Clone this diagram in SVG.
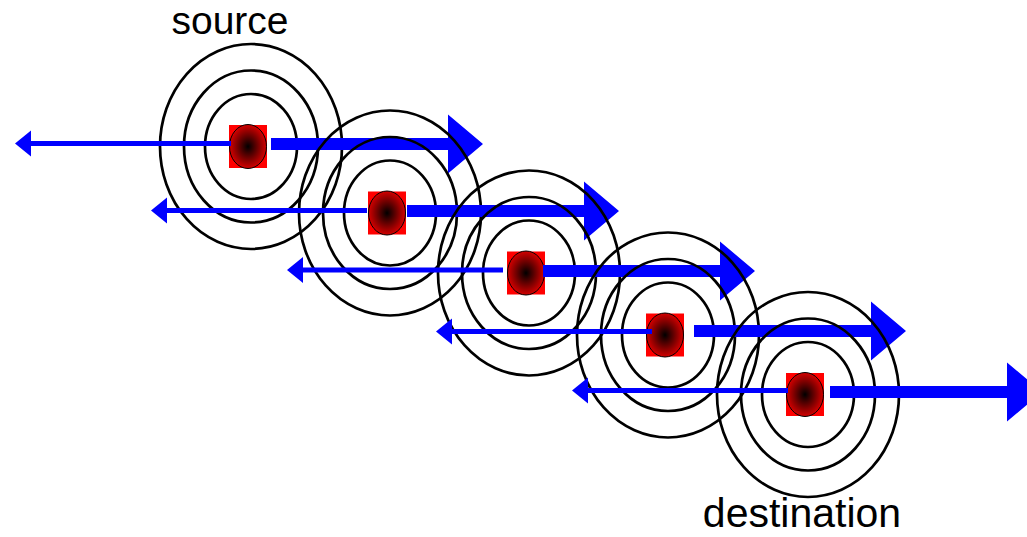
<svg xmlns="http://www.w3.org/2000/svg" xmlns:xlink="http://www.w3.org/1999/xlink" width="1027" height="537" viewBox="0 0 1027 537">
  <style>
    .ring { fill: none; stroke: #000; stroke-width: 2.7; }
    .arrow { fill: #0000ff; stroke: none; }
    .label { font-family: "Liberation Sans", Arial, sans-serif; fill: #000; text-anchor: middle; }
  </style>
  <defs>
    <radialGradient id="ballFill" cx="0.5" cy="0.5" r="0.5">
      <stop offset="0" stop-color="#000000"/>
      <stop offset="1" stop-color="#d40000"/>
    </radialGradient>
    <!-- three concentric wave rings, centred slightly right of the emitter -->
    <g id="rings">
      <ellipse class="ring" cx="3" cy="0" rx="46" ry="52.5"/>
      <ellipse class="ring" cx="3" cy="0" rx="67" ry="76"/>
      <ellipse class="ring" cx="3" cy="0" rx="91" ry="102.5"/>
    </g>
    <!-- emitter: red square with shaded ball -->
    <g id="ball">
      <rect x="-19" y="-21.5" width="38" height="43" fill="#ff0000"/>
      <ellipse cx="0" cy="0" rx="18.5" ry="22" fill="url(#ballFill)" stroke="#000" stroke-width="1"/>
    </g>
    <!-- thick forward arrow, origin at the tail -->
    <path id="fwd" class="arrow" d="M0,-6 H177 V-29.5 L212,0 L177,29.5 V6 H0 Z"/>
    <!-- thin backward arrow, origin at the tail -->
    <path id="back" class="arrow" d="M0,-2.5 H-200 V-13 L-216,0 L-200,13 V2.5 H0 Z"/>
  </defs>

  <text class="label" x="230" y="34" font-size="39">source</text>
  <text class="label" x="802" y="527" font-size="41">destination</text>

  <!-- stage 1 -->
  <g id="node-1" transform="translate(248,146.5)">
    <use xlink:href="#rings"/>
    <use xlink:href="#ball"/>
  </g>
  <g id="connectors-1" class="connectors">
    <use xlink:href="#back" transform="translate(231,143.5)"/>
    <use xlink:href="#fwd" transform="translate(271,144)"/>
  </g>

  <!-- stage 2 -->
  <g id="node-2" transform="translate(387,213)">
    <use xlink:href="#rings"/>
    <use xlink:href="#ball"/>
  </g>
  <g id="connectors-2" class="connectors">
    <use xlink:href="#back" transform="translate(367,210.5)"/>
    <use xlink:href="#fwd" transform="translate(407,211)"/>
  </g>

  <!-- stage 3 -->
  <g id="node-3" transform="translate(526,273)">
    <use xlink:href="#rings"/>
    <use xlink:href="#ball"/>
  </g>
  <g id="connectors-3" class="connectors">
    <use xlink:href="#back" transform="translate(503,270)"/>
    <use xlink:href="#fwd" transform="translate(543,271)"/>
  </g>

  <!-- stage 4 -->
  <g id="node-4" transform="translate(665,335)">
    <use xlink:href="#rings"/>
    <use xlink:href="#ball"/>
  </g>
  <g id="connectors-4" class="connectors">
    <use xlink:href="#back" transform="translate(652,331.5)"/>
    <use xlink:href="#fwd" transform="translate(694,331)"/>
  </g>

  <!-- stage 5 -->
  <g id="node-5" transform="translate(805,394.5)">
    <use xlink:href="#rings"/>
    <use xlink:href="#ball"/>
  </g>
  <g id="connectors-5" class="connectors">
    <use xlink:href="#back" transform="translate(788,390.5)"/>
    <use xlink:href="#fwd" transform="translate(830,392)"/>
  </g>
</svg>
